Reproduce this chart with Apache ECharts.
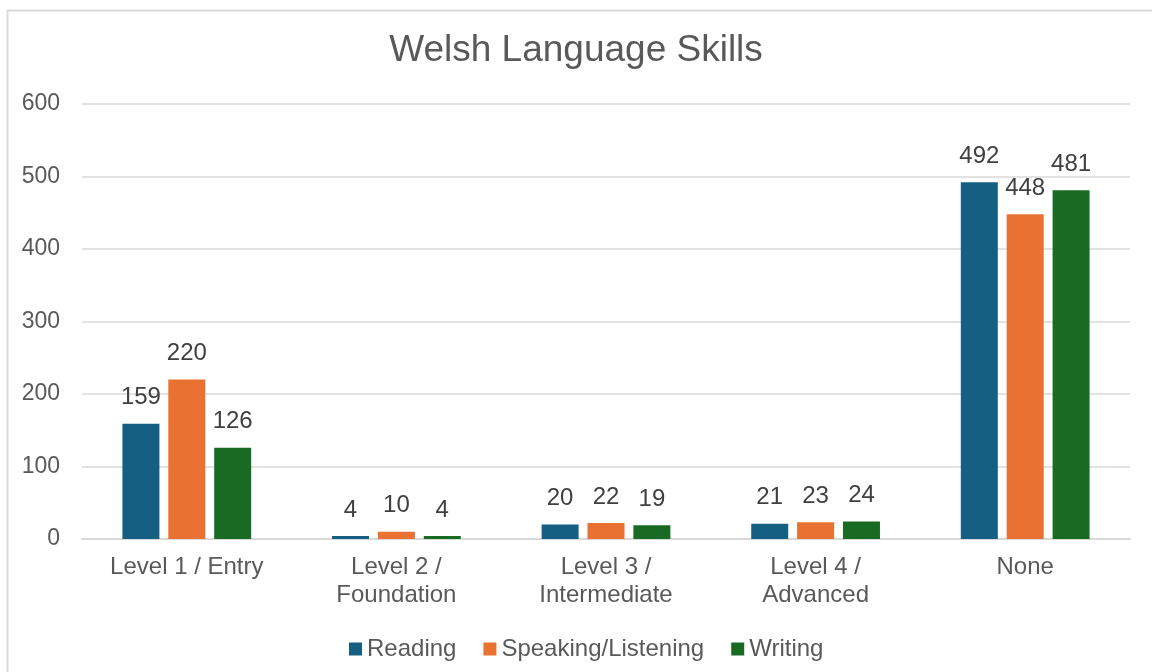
<!DOCTYPE html>
<html lang="en">
<head>
<meta charset="UTF-8">
<title>Welsh Language Skills</title>
<style>
    html, body { margin: 0; padding: 0; background: #fff; }
    #echart { width: 1152px; height: 672px; }
</style>
</head>
<body>

<div id="echart"></div>

<script src="https://cdn.jsdelivr.net/npm/echarts@6/dist/echarts.min.js"></script>
<script>
    const categories = ["Level 1 / Entry", "Level 2 /\nFoundation", "Level 3 /\nIntermediate", "Level 4 /\nAdvanced", "None"];
    const reading = [159, 4, 20, 21, 492];
    const speaking = [220, 10, 22, 23, 448];
    const writing = [126, 4, 19, 24, 481];

    const myChart = echarts.init(document.getElementById("echart"));
    const font = "Arial, 'Liberation Sans', sans-serif";

    const bar = (name, data, color) => ({
        name: name,
        type: "bar",
        data: data,
        barWidth: 37,
        barGap: "24%",
        itemStyle: { color: color },
        label: {
            show: true,
            position: "top",
            distance: 14,
            color: "#404040",
            fontSize: 24,
            fontFamily: font
        }
    });

    const option = {
        animation: false,
        textStyle: { fontFamily: font },
        graphic: [{
            type: "rect",
            shape: { x: 7.5, y: 10.5, width: 1160, height: 680 },
            style: { fill: "none", stroke: "#d9d9d9", lineWidth: 2 }
        }],
        title: {
            text: "Welsh Language Skills",
            left: "center",
            top: 27,
            textStyle: { color: "#595959", fontSize: 37, fontWeight: "normal", fontFamily: font }
        },
        legend: {
            bottom: 6,
            left: 344,
            itemWidth: 13,
            itemHeight: 13,
            itemGap: 27,
            icon: "rect",
            textStyle: { color: "#595959", fontSize: 24, fontFamily: font, padding: [0, 0, 0, 0] }
        },
        grid: { left: 82, right: 22, top: 104, bottom: 133, containLabel: false },
        xAxis: {
            type: "category",
            data: categories,
            axisTick: { show: false },
            axisLine: { lineStyle: { color: "#d9d9d9", width: 2 } },
            axisLabel: {
                interval: 0,
                color: "#595959",
                fontSize: 24,
                lineHeight: 28,
                margin: 14,
                fontFamily: font
            }
        },
        yAxis: {
            type: "value",
            min: 0,
            max: 600,
            interval: 100,
            axisLabel: { color: "#595959", fontSize: 23, margin: 22, fontFamily: font },
            splitLine: { lineStyle: { color: "#d9d9d9", width: 1.5 } }
        },
        series: [
            bar("Reading", reading, "#156082"),
            bar("Speaking/Listening", speaking, "#E97132"),
            bar("Writing", writing, "#196B24")
        ]
    };

    myChart.setOption(option);
</script>

</body>
</html>
